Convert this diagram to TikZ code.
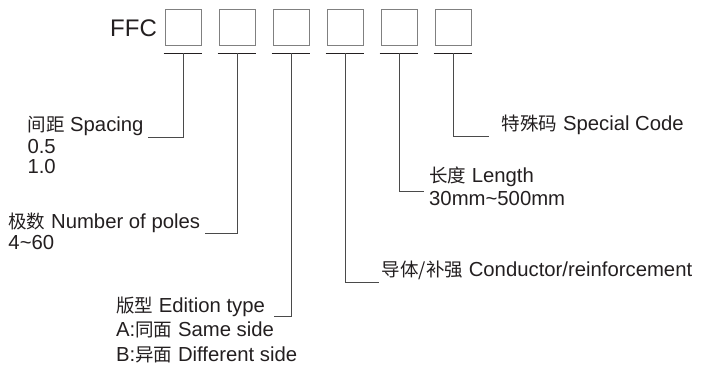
\documentclass[tikz,border=0pt]{standalone}
\usepackage{fontspec}
\usetikzlibrary{calc}
\setmainfont{Liberation Sans}
\newfontfamily\cjk{Noto Sans CJK SC}
\definecolor{ink}{HTML}{231F20}
\definecolor{boxgray}{HTML}{808080}
\definecolor{linegray}{HTML}{4A4A4A}
\begin{document}
\begin{tikzpicture}[x=1pt,y=-1pt,
  codebox/.style={draw=boxgray,line width=1pt,minimum width=36.5pt,minimum height=35.7pt,inner sep=0pt,anchor=north west},
  underl/.style={draw=ink,line width=0.9pt},
  lead/.style={draw=linegray,line width=0.9pt},
  lbl/.style={inner sep=0pt,anchor=base west,text=ink,font=\fontsize{20.3}{24}\selectfont},
  title/.style={inner sep=0pt,anchor=base west,text=ink,font=\fontsize{24}{28}\selectfont}]
\useasboundingbox (0,0) rectangle (708,369);
\node[title] (ffc) at (110,36.7) {FFC};
\foreach \i in {1,...,6}{
  \node[codebox] (b\i) at ({164.5+54*(\i-1)},9.3) {};
  \coordinate (u\i) at ($(b\i.south)+(0,7.2)$);
  \draw[underl] ($(b\i.south west)+(-1,7.2)$) -- ($(b\i.south east)+(0,7.2)$);
}
% labels
\newcommand{\zh}[1]{{\cjk\fontsize{18.5}{22}\selectfont #1}}
\node[lbl] (spacing) at (27.3,131) {\zh{间距} Spacing};
\node[lbl] (sp1) at (27.3,153.3) {0.5};
\node[lbl] (sp2) at (27.3,173.5) {1.0};
\node[lbl] (poles) at (8.3,228.3) {\zh{极数} Number of poles};
\node[lbl] (po1) at (8.3,249) {4\char"7E 60};
\node[lbl] (edition) at (116,312.3) {\zh{版型} Edition type};
\node[lbl] (ed1) at (116,336.7) {A:\zh{同面} Same side};
\node[lbl] (ed2) at (116,361) {B:\zh{异面} Different side};
\node[lbl] (cond) at (381.7,276) {\zh{导体/补强} Conductor/reinforcement};
\node[lbl] (length) at (429,182.3) {\zh{长度} Length};
\node[lbl] (le1) at (429,205.7) {30mm\char"7E 500mm};
\node[lbl] (special) at (501.7,130.7) {\zh{特殊码} Special Code};
% leaders
\draw[lead] (u1) |- ([xshift=4pt,yshift=-6pt]spacing.base east);
\draw[lead] (u2) |- ([xshift=5pt,yshift=-5.6pt]poles.base east);
\draw[lead] (u3) |- ([xshift=9pt,yshift=-4.6pt]edition.base east);
\draw[lead] (u4) |- ([xshift=-2.4pt,yshift=-6.7pt]cond.base west);
\draw[lead] (u5) |- ([xshift=-5pt,yshift=-9pt]length.base west);
\draw[lead] (u6) |- ([xshift=-13pt,yshift=-5.7pt]special.base west);
\end{tikzpicture}
\end{document}
